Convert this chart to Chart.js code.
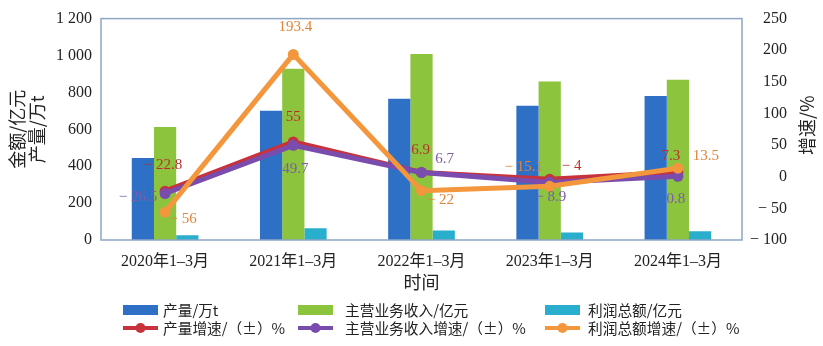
<!DOCTYPE html>
<html>
<head>
<meta charset="utf-8">
<script src="https://cdn.jsdelivr.net/npm/chart.js@4/dist/chart.umd.min.js"></script>
<style>
  html, body { margin: 0; padding: 0; background: #fff; }
  #wrap { width: 823px; height: 346px; }
</style>
</head>
<body>
<div id="wrap"><canvas id="chart" width="823" height="346"></canvas></div>
<script>
// categories
const periods = ["2020年1–3月", "2021年1–3月", "2022年1–3月", "2023年1–3月", "2024年1–3月"];

// bars, left axis
const output = [445, 700, 765, 727, 781];        // 产量/万t
const revenue = [612, 928, 1008, 859, 868];      // 主营业务收入/亿元
const profit = [26, 64, 52, 40, 47];             // 利润总额/亿元

// lines, right axis
const outputGrowth = [-22.8, 55, 6.9, -4, 7.3];
const revenueGrowth = [-26.5, 49.7, 6.7, -8.9, 0.8];
const profitGrowth = [-56, 193.4, -22, -15.1, 13.5];

const leftTicks = [0, 200, 400, 600, 800, 1000, 1200];
const rightTicks = [-100, -50, 0, 50, 100, 150, 200, 250];

const serif = "'Liberation Serif', 'Noto Sans CJK SC', serif";
const cjk = "'Noto Sans CJK SC', 'Liberation Serif', sans-serif";

function minus(v) {
    return v < 0 ? "\u2212 " + Math.abs(v) : String(v);
}

function thousands(v) {
    return v >= 1000 ? Math.floor(v / 1000) + " " + String(v % 1000).padStart(3, "0") : String(v);
}

// label offsets from the point, per line dataset
const labelOffsets = {
    "产量增速/（±）%": [[-2, -26], [0, -25], [-1, -22], [22, -13], [-7, -16]],
    "主营业务收入增速/（±）%": [[-27, 4], [2, 24], [23, -13], [1, 15], [-2, 23]],
    "利润总额增速/（±）%": [[18, 7], [2, -27], [19, 9], [-26, -19], [28, -12]]
};

const frame = {
    id: 'frame',
    afterDraw(chart) {
        const a = chart.chartArea;
        const ctx = chart.ctx;
        ctx.save();
        ctx.strokeStyle = '#8ea6c6';
        ctx.lineWidth = 1.5;
        ctx.strokeRect(a.left, a.top, a.right - a.left, a.bottom - a.top);

        // right axis: labels right aligned, title read bottom to top
        const s = chart.scales.y1;
        ctx.fillStyle = '#222';
        ctx.font = "16px " + serif;
        ctx.textAlign = 'right';
        ctx.textBaseline = 'middle';
        s.ticks.forEach(t => {
            ctx.fillText(minus(t.value), 787, s.getPixelForValue(t.value));
        });
        ctx.font = "18px " + cjk;
        ctx.textAlign = 'center';
        ctx.translate(807, (a.top + a.bottom) / 2 - 4);
        ctx.rotate(-Math.PI / 2);
        ctx.fillText('增速/%', 0, 0);
        ctx.restore();
    }
};

const pointLabels = {
    id: 'pointLabels',
    afterDatasetsDraw(chart) {
        const ctx = chart.ctx;
        ctx.save();
        ctx.font = "15px " + serif;
        ctx.textAlign = 'center';
        ctx.textBaseline = 'middle';
        chart.data.datasets.forEach((ds, i) => {
            if (ds.type !== 'line') return;
            const meta = chart.getDatasetMeta(i);
            meta.data.forEach((pt, j) => {
                const off = labelOffsets[ds.label][j];
                ctx.fillStyle = ds.labelColor;
                ctx.fillText(minus(ds.data[j]), pt.x + off[0], pt.y + off[1]);
            });
        });
        ctx.restore();
    }
};

const gridLegend = {
    id: 'gridLegend',
    afterDraw(chart) {
        const ctx = chart.ctx;
        const boxX = [123, 298, 545];
        const textX = [163, 345, 588];
        const rows = [310, 328];
        ctx.save();
        ctx.font = "14.7px " + cjk;
        ctx.textBaseline = 'middle';
        chart.data.datasets.forEach((ds, i) => {
            const x = boxX[i % 3];
            const y = rows[Math.floor(i / 3)];
            if (ds.type === 'line') {
                ctx.strokeStyle = ds.borderColor;
                ctx.lineWidth = 4;
                ctx.beginPath();
                ctx.moveTo(x, y);
                ctx.lineTo(x + 35, y);
                ctx.stroke();
                ctx.fillStyle = ds.borderColor;
                ctx.beginPath();
                ctx.arc(x + 17.5, y, 5, 0, Math.PI * 2);
                ctx.fill();
            } else {
                ctx.fillStyle = ds.backgroundColor;
                ctx.fillRect(x, y - 5, 35, 10);
            }
            ctx.fillStyle = '#222';
            ctx.fillText(ds.label, textX[i % 3], y);
        });
        ctx.restore();
    }
};

const barDs = (label, data, color) => ({
    type: 'bar', label: label, data: data, yAxisID: 'y',
    backgroundColor: color, borderWidth: 0, order: 5,
    categoryPercentage: 0.52, barPercentage: 1
});

const lineDs = (label, data, color, labelColor, order) => ({
    type: 'line', label: label, data: data, yAxisID: 'y1',
    borderColor: color, backgroundColor: color, labelColor: labelColor,
    borderWidth: 5, pointRadius: 5.5, pointBackgroundColor: color,
    pointBorderWidth: 0, tension: 0, order: order
});

const config = {
    data: {
        labels: periods,
        datasets: [
            barDs("产量/万t", output, '#2d70c6'),
            barDs("主营业务收入/亿元", revenue, '#8cc43e'),
            barDs("利润总额/亿元", profit, '#29aecd'),
            lineDs("产量增速/（±）%", outputGrowth, '#c8323c', '#b8302c', 2),
            lineDs("主营业务收入增速/（±）%", revenueGrowth, '#7a4cae', '#7d5ca8', 1),
            lineDs("利润总额增速/（±）%", profitGrowth, '#f3963c', '#e2843a', 0)
        ]
    },
    options: {
        responsive: false,
        animation: false,
        layout: { padding: { top: 2, bottom: 51, left: 0, right: 0 } },
        plugins: {
            legend: { display: false },
            tooltip: { enabled: false }
        },
        scales: {
            x: {
                offset: true,
                grid: { display: false, drawTicks: false },
                border: { display: false },
                ticks: { font: { size: 16, family: serif }, color: '#222', padding: 12 },
                title: { display: true, text: '时间', font: { size: 18, family: cjk }, color: '#222', padding: { top: 2, bottom: 2 } },
                afterFit(s) { s.height = 55; }
            },
            y: {
                position: 'left',
                min: 0, max: 1200,
                afterBuildTicks(s) { s.ticks = leftTicks.map(v => ({ value: v })); },
                grid: { display: false, drawTicks: false },
                border: { display: false },
                ticks: { font: { size: 16, family: serif }, color: '#222', padding: 9, callback: v => thousands(v) },
                title: {
                    display: true, text: ['金额/亿元', '产量/万t'],
                    font: { size: 18, family: cjk, lineHeight: 1.1 }, color: '#222',
                    padding: { top: 7, bottom: 0 }
                },
                afterFit(s) { s.width = 101; }
            },
            y1: {
                position: 'right',
                min: -100, max: 250,
                afterBuildTicks(s) { s.ticks = rightTicks.map(v => ({ value: v })); },
                grid: { display: false, drawTicks: false },
                border: { display: false },
                ticks: { display: false },
                afterFit(s) { s.width = 81; }
            }
        }
    },
    plugins: [frame, pointLabels, gridLegend]
};

window.onload = function () {
    const ctx = document.getElementById('chart').getContext('2d');
    window.myChart = new Chart(ctx, config);
};
</script>
</body>
</html>
